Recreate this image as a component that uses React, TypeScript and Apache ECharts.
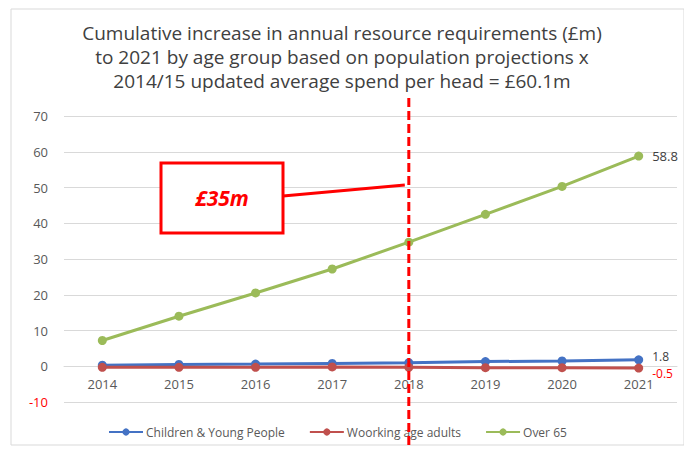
import React, { useEffect, useRef } from "react";
import * as echarts from "echarts";

const years = ["2014", "2015", "2016", "2017", "2018", "2019", "2020", "2021"];
const children = [0.3, 0.5, 0.6, 0.8, 1.0, 1.3, 1.5, 1.8];
const working = [-0.3, -0.3, -0.3, -0.2, -0.3, -0.4, -0.4, -0.5];
const over65 = [7.2, 14.0, 20.5, 27.2, 34.7, 42.5, 50.3, 58.8];
const titleLines = [
  "Cumulative increase in annual resource requirements (£m)",
  "to 2021 by age group based on population projections x",
  "2014/15 updated average spend per head = £60.1m",
];
const markYear = "2018";
const boxText = "£35m";

const FONT = "Open Sans";

export default function App() {
  const ref = useRef<HTMLDivElement>(null);
  useEffect(() => {
    if (!ref.current) return;
    const chart = echarts.init(ref.current, undefined, { renderer: "svg" });
    const lastLabel = (color: string, offset: number[], size: number) => ({
      show: true,
      position: "right",
      offset,
      color,
      fontFamily: FONT,
      fontSize: size,
      formatter: (p: any) => (p.dataIndex === years.length - 1 ? String(p.value) : ""),
    });
    const mk = (name: string, data: number[], color: string, label: any) => ({
      name,
      type: "line",
      data,
      symbol: "circle",
      symbolSize: 9,
      lineStyle: { color, width: 3 },
      itemStyle: { color },
      label,
      z: name === "Over 65" ? 3 : 2,
    });
    chart.setOption({
      animation: false,
      textStyle: { fontFamily: FONT },
      title: {
        text: titleLines.join("\n"),
        left: "center",
        top: 16,
        textStyle: { fontFamily: FONT, fontSize: 19, fontWeight: "normal", color: "#404040", lineHeight: 24 },
      },
      grid: { left: 64, right: 7, top: 116, bottom: 47 },
      xAxis: {
        type: "category",
        data: years,
        offset: -36,
        axisLine: { onZero: false, lineStyle: { color: "#d9d9d9" } },
        axisTick: { show: false },
        axisLabel: { color: "#595959", fontSize: 13, fontFamily: FONT, margin: 11 },
      },
      yAxis: {
        type: "value",
        min: -10,
        max: 70,
        interval: 10,
        axisLine: { show: false },
        axisTick: { show: false },
        splitLine: { lineStyle: { color: "#d9d9d9" } },
        axisLabel: {
          fontSize: 13,
          fontFamily: FONT,
          margin: 16,
          color: (v: any) => (Number(v) < 0 ? "#ff0000" : "#595959"),
        },
      },
      legend: {
        left: 103,
        top: 421,
        itemWidth: 34,
        itemHeight: 9,
        itemGap: 24,
        textStyle: { color: "#595959", fontSize: 12, fontFamily: FONT, padding: [0, 0, 0, -2] },
        data: ["Children & Young People", "Woorking age adults", "Over 65"],
      },
      series: [
        mk("Children & Young People", children, "#4472C4", lastLabel("#404040", [4, -3], 12)),
        mk("Woorking age adults", working, "#C0504D", lastLabel("#ff0000", [4, 5], 12)),
        mk("Over 65", over65, "#9BBB59", lastLabel("#404040", [4, 0], 13)),
      ],
    });
    const x = chart.convertToPixel({ xAxisIndex: 0 }, markYear) as number;
    chart.setOption({
      graphic: [
        {
          type: "rect",
          shape: { x: 0, y: 0, width: 673, height: 436 },
          x: 11,
          y: 9,
          style: { fill: "none", stroke: "#d9d9d9", lineWidth: 1 },
          silent: true,
        },
        {
          type: "line",
          shape: { x1: x, y1: 98, x2: x, y2: 449 },
          style: { stroke: "#ff0000", lineWidth: 3, lineDash: [9, 4] },
          z: 10,
        },
        {
          type: "line",
          shape: { x1: 283, y1: 196, x2: x - 4, y2: 185 },
          style: { stroke: "#ff0000", lineWidth: 3 },
          z: 10,
        },
        {
          type: "rect",
          shape: { x: 161, y: 163, width: 122, height: 70 },
          style: { fill: "#ffffff", stroke: "#ff0000", lineWidth: 3 },
          z: 10,
        },
        {
          type: "text",
          x: 222,
          y: 198,
          style: {
            text: boxText,
            fill: "#ff0000",
            font: "italic bold 21px 'Open Sans'",
            align: "center",
            verticalAlign: "middle",
          },
          z: 11,
        },
      ],
    });
    return () => chart.dispose();
  }, []);
  return <div ref={ref} style={{ width: 684, height: 449, position: "absolute", left: 0, top: 0 }} />;
}
